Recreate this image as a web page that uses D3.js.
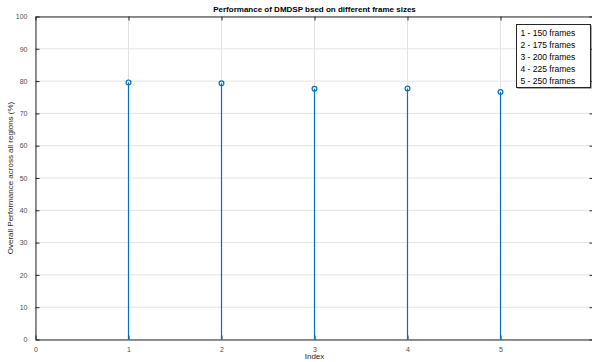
<!DOCTYPE html>
<html>
<head>
<meta charset="utf-8">
<script src="https://cdn.jsdelivr.net/npm/d3@7"></script>
<style>
  body { margin: 0; background: #fff; }
  svg { display: block; font-family: "Liberation Sans", Arial, sans-serif; }
</style>
</head>
<body>
<div id="chart"></div>
<script>
const indices = [1, 2, 3, 4, 5];
const performance = [79.6, 79.3, 77.6, 77.7, 76.6];
const xTicks = [0, 1, 2, 3, 4, 5, 6];
const yTicks = [0, 10, 20, 30, 40, 50, 60, 70, 80, 90, 100];
const legendLines = ["1 - 150 frames", "2 - 175 frames", "3 - 200 frames", "4 - 225 frames", "5 - 250 frames"];

const width = 592, height = 362;
const plotLeft = 35.5, plotTop = 16.5, plotW = 558, plotH = 323;

const svg = d3.select("#chart").append("svg")
              .attr("width", width)
              .attr("height", height);

const x = d3.scaleLinear().domain([0, 6]).range([plotLeft, plotLeft + plotW]);
const y = d3.scaleLinear().domain([0, 100]).range([plotTop + plotH, plotTop]);

// grid
svg.append("g").selectAll("line")
   .data(xTicks).enter().append("line")
     .attr("x1", d => x(d)).attr("x2", d => x(d))
     .attr("y1", plotTop).attr("y2", plotTop + plotH)
     .attr("stroke", "#e3e3e3").attr("stroke-width", 1);
svg.append("g").selectAll("line")
   .data(yTicks).enter().append("line")
     .attr("x1", plotLeft).attr("x2", plotLeft + plotW)
     .attr("y1", d => y(d)).attr("y2", d => y(d))
     .attr("stroke", "#e3e3e3").attr("stroke-width", 1);

// axes (MATLAB style: inward ticks, box)
const tickLen = 4;
function styleAxis(g) {
  g.select(".domain").attr("stroke", "#262626");
  g.selectAll(".tick line").attr("stroke", "#262626");
  g.selectAll(".tick text").attr("fill", "#4d4d4d").style("font-size", "7px");
}
svg.append("g")
   .attr("transform", `translate(0,${plotTop + plotH})`)
   .call(d3.axisBottom(x).tickValues(xTicks).tickFormat(d3.format("d")).tickSizeInner(-tickLen).tickSizeOuter(0).tickPadding(8))
   .call(styleAxis);
svg.append("g")
   .attr("transform", `translate(0,${plotTop})`)
   .call(d3.axisTop(x).tickValues(xTicks).tickSizeInner(-tickLen).tickSizeOuter(0).tickFormat(""))
   .call(styleAxis);
svg.append("g")
   .attr("transform", `translate(${plotLeft},0)`)
   .call(d3.axisLeft(y).tickValues(yTicks).tickFormat(d3.format("d")).tickSizeInner(-tickLen).tickSizeOuter(0).tickPadding(8))
   .call(styleAxis);
svg.append("g")
   .attr("transform", `translate(${plotLeft + plotW},0)`)
   .call(d3.axisRight(y).tickValues(yTicks).tickSizeInner(-tickLen).tickSizeOuter(0).tickFormat(""))
   .call(styleAxis);

// stems
const stems = svg.append("g").selectAll("g")
   .data(indices.map((d, i) => ({ idx: d, val: performance[i] })))
   .enter().append("g");
stems.append("line")
     .attr("x1", d => x(d.idx)).attr("x2", d => x(d.idx))
     .attr("y1", y(0)).attr("y2", d => y(d.val))
     .attr("stroke", "#0072BD").attr("stroke-width", 1.2);
stems.append("circle")
     .attr("cx", d => x(d.idx)).attr("cy", d => y(d.val))
     .attr("r", 2.4)
     .attr("fill", "none").attr("stroke", "#0072BD").attr("stroke-width", 1.2);

// labels
svg.append("text")
   .attr("x", x(3)).attr("y", 12)
   .attr("text-anchor", "middle")
   .style("font-size", "8px").style("font-weight", "bold")
   .attr("fill", "#000")
   .text("Performance of DMDSP bsed on different frame sizes");
svg.append("text")
   .attr("x", x(3)).attr("y", 359)
   .attr("text-anchor", "middle")
   .style("font-size", "8px").attr("fill", "#262626")
   .text("Index");
svg.append("text")
   .attr("transform", `translate(13,${y(50)}) rotate(-90)`)
   .attr("text-anchor", "middle")
   .style("font-size", "8px").attr("fill", "#262626")
   .text("Overall Performance across all regions (%)");

// legend box
const lg = svg.append("g").attr("transform", "translate(516.5,24.5)");
lg.append("rect")
  .attr("x", 1).attr("y", 1).attr("width", 74).attr("height", 63)
  .attr("fill", "#555");
lg.append("rect")
  .attr("width", 74).attr("height", 63)
  .attr("fill", "#fff").attr("stroke", "#262626").attr("stroke-width", 1);
lg.selectAll("text")
  .data(legendLines).enter().append("text")
    .attr("x", 4).attr("y", (d, i) => 11 + i * 12.2)
    .style("font-size", "8.5px").attr("fill", "#000")
    .text(d => d);
</script>
</body>
</html>
